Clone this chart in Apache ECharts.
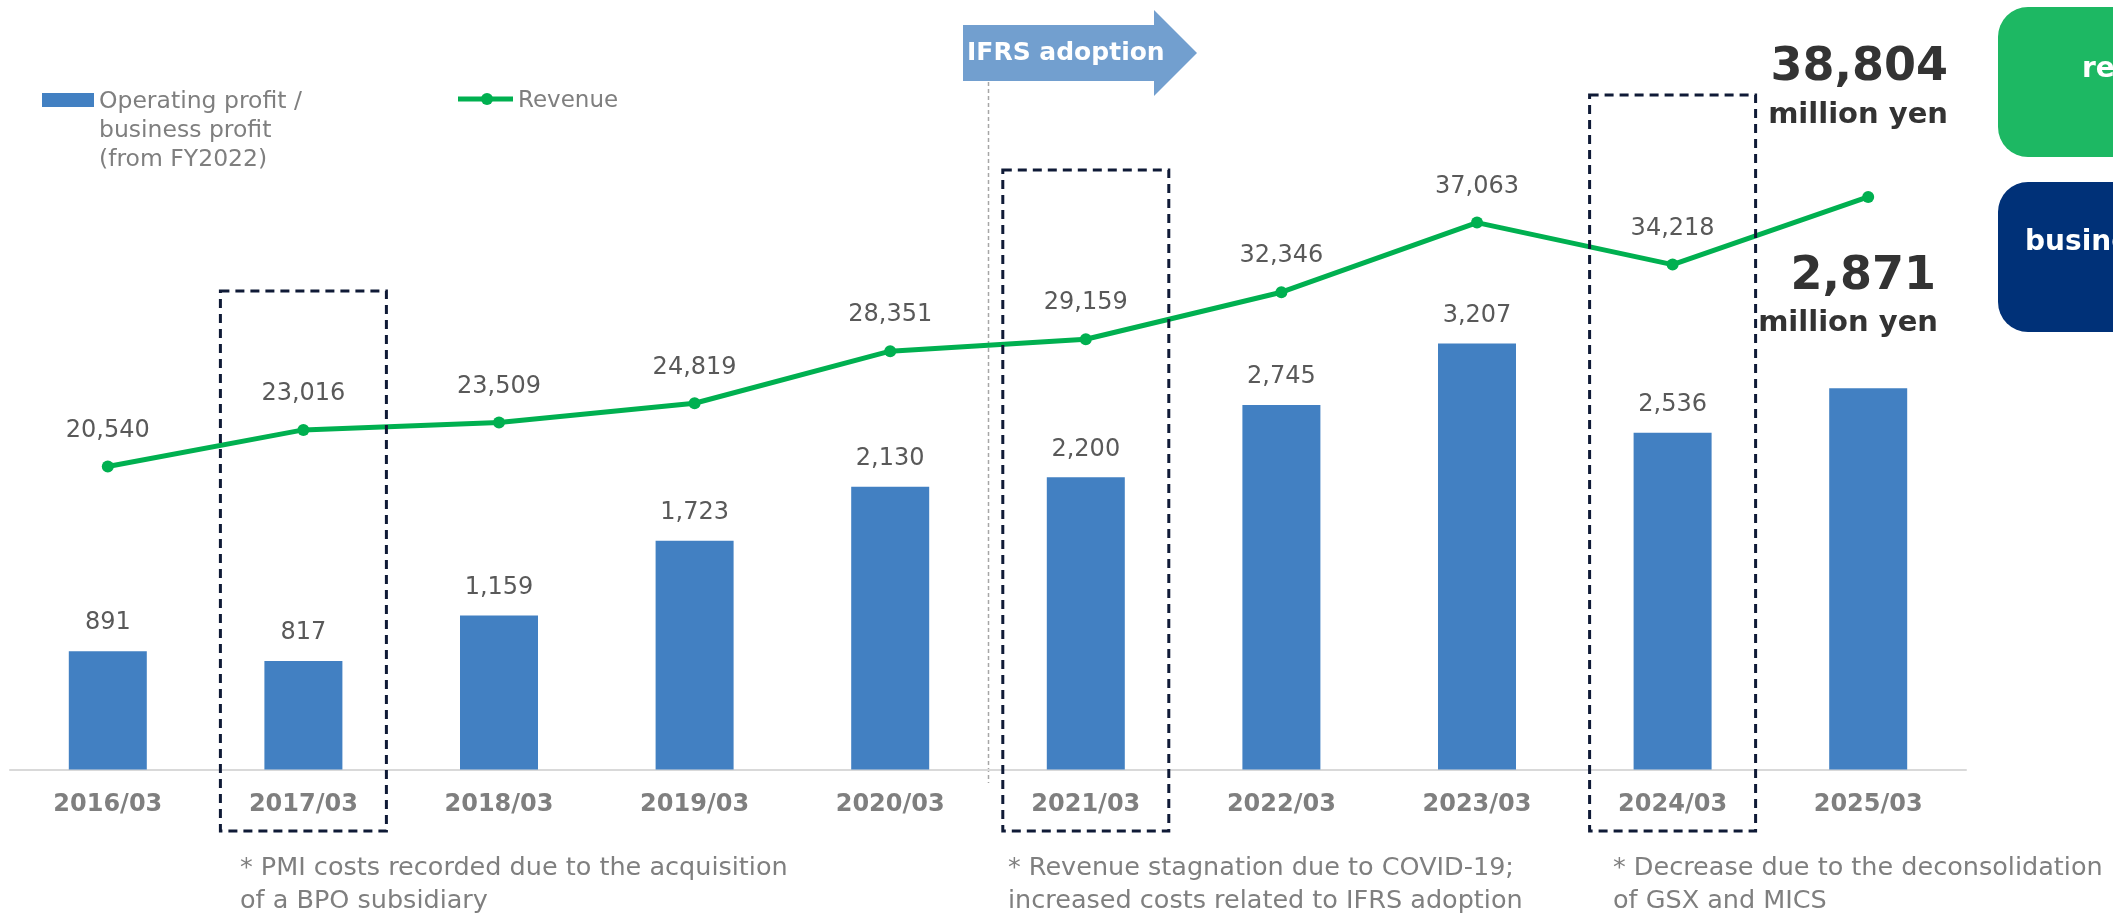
<!DOCTYPE html>
<html>
<head>
<meta charset="utf-8">
<script src="https://cdn.jsdelivr.net/npm/echarts@6/dist/echarts.min.js"></script>
<style>
  html, body { margin: 0; padding: 0; background: #ffffff; }
  #chart { width: 2113px; height: 913px; }
</style>
</head>
<body>
<div id="chart"></div>
<script>
// Fiscal years (March year-end)
const categories = ['2016/03', '2017/03', '2018/03', '2019/03', '2020/03',
                    '2021/03', '2022/03', '2023/03', '2024/03', '2025/03'];
// Operating profit / business profit, million yen
const profit = [891, 817, 1159, 1723, 2130, 2200, 2745, 3207, 2536, 2871];
// Revenue, million yen
const revenue = [20540, 23016, 23509, 24819, 28351, 29159, 32346, 37063, 34218, 38804];
// Years with a note below the axis
const notedYears = ['2017/03', '2021/03', '2024/03'];
const notes = [
  '* PMI costs recorded due to the acquisition\nof a BPO subsidiary',
  '* Revenue stagnation due to COVID-19;\nincreased costs related to IFRS adoption',
  '* Decrease due to the deconsolidation\nof GSX and MICS'
];
// First year reported under IFRS
const ifrsYear = '2021/03';

const FONT = "'DejaVu Sans', Verdana, sans-serif";
const BAR_COLOR = '#4280c2';
const LINE_COLOR = '#00b050';
const fmt = v => v.toLocaleString('en-US');
const last = categories.length - 1;

const chart = echarts.init(document.getElementById('chart'), null, { renderer: 'canvas' });

chart.setOption({
  backgroundColor: '#ffffff',
  animation: false,
  textStyle: { fontFamily: FONT },
  grid: { left: 10, right: 147, top: 105.5, bottom: 143.5 },
  xAxis: {
    type: 'category',
    data: categories,
    axisLine: { lineStyle: { color: '#d9d9d9', width: 2 } },
    axisTick: { show: false },
    axisLabel: { color: '#7f7f7f', fontWeight: 'bold', fontSize: 24, margin: 23, fontFamily: FONT }
  },
  yAxis: [
    { type: 'value', min: 0, max: 5000, show: false, splitLine: { show: false } },
    { type: 'value', min: 0, max: 45000, show: false, splitLine: { show: false } }
  ],
  series: [
    {
      name: 'Operating profit / business profit (from FY2022)',
      type: 'bar',
      barWidth: 78,
      itemStyle: { color: BAR_COLOR },
      label: {
        show: true, position: 'top', distance: 16,
        color: '#595959', fontSize: 24, fontFamily: FONT,
        formatter: p => fmt(p.value)
      },
      data: profit.map((v, i) => i === last ? { value: v, label: { show: false } } : v)
    },
    {
      name: 'Revenue',
      type: 'line',
      yAxisIndex: 1,
      symbol: 'circle',
      symbolSize: 12,
      lineStyle: { color: LINE_COLOR, width: 5 },
      itemStyle: { color: LINE_COLOR },
      label: {
        show: true, position: 'top', distance: 18,
        color: '#595959', fontSize: 24, fontFamily: FONT,
        formatter: p => fmt(p.value)
      },
      data: revenue.map((v, i) => i === last ? { value: v, label: { show: false } } : v)
    }
  ]
});

// Annotations placed from the category axis positions
const cx = c => chart.convertToPixel({ xAxisIndex: 0 }, c);
const step = cx(categories[1]) - cx(categories[0]);
const boxTops = [291, 170, 95];
const boxBottom = 831;
const boxHalf = 83;
const noteX = [240, 1008, 1613];

const graphics = [];

// Dashed frames around the noted years
notedYears.forEach((c, k) => {
  const x = cx(c);
  graphics.push({
    type: 'rect', silent: true, z: 10,
    shape: { x: x - boxHalf, y: boxTops[k], width: boxHalf * 2, height: boxBottom - boxTops[k] },
    style: { fill: null, stroke: '#0f1a36', lineWidth: 3, lineDash: [9, 6] }
  });
  graphics.push({
    type: 'text', silent: true,
    x: noteX[k], y: 852,
    style: { text: notes[k], fill: '#7f7f7f', font: '25.5px ' + FONT, lineHeight: 33, textVerticalAlign: 'top' }
  });
});

// IFRS boundary line and arrow
const ifrsX = Math.round(cx(ifrsYear) - step / 2) + 0.5;
graphics.push({
  type: 'line', silent: true,
  shape: { x1: ifrsX, y1: 82, x2: ifrsX, y2: 783 },
  style: { stroke: '#a6a6a6', lineWidth: 1.5, lineDash: [4, 3] }
});
graphics.push({
  type: 'polygon', silent: true,
  shape: { points: [[963, 25], [1154, 25], [1154, 10], [1197, 53], [1154, 96], [1154, 81], [963, 81]] },
  style: { fill: '#729fcf' }
});
graphics.push({
  type: 'text', silent: true, x: 967, y: 53,
  style: { text: 'IFRS adoption', fill: '#ffffff', font: 'bold 25px ' + FONT, textVerticalAlign: 'middle' }
});

// Legend
graphics.push({
  type: 'rect', silent: true,
  shape: { x: 42, y: 93, width: 52, height: 14 },
  style: { fill: BAR_COLOR }
});
graphics.push({
  type: 'text', silent: true, x: 99, y: 87,
  style: { text: 'Operating profit /\nbusiness profit\n(from FY2022)', fill: '#7f7f7f', font: '23.5px ' + FONT, lineHeight: 29, textVerticalAlign: 'top' }
});
graphics.push({
  type: 'line', silent: true,
  shape: { x1: 458, y1: 99, x2: 513, y2: 99 },
  style: { stroke: LINE_COLOR, lineWidth: 5 }
});
graphics.push({
  type: 'circle', silent: true,
  shape: { cx: 487, cy: 99, r: 6 },
  style: { fill: LINE_COLOR }
});
graphics.push({
  type: 'text', silent: true, x: 518, y: 101,
  style: { text: 'Revenue', fill: '#7f7f7f', font: '23px ' + FONT, textVerticalAlign: 'middle' }
});

// Latest-year figures
graphics.push({
  type: 'text', silent: true, x: 1948, y: 68,
  style: { text: fmt(revenue[last]), fill: '#333333', font: 'bold 46px ' + FONT, textAlign: 'right', textVerticalAlign: 'middle' }
});
graphics.push({
  type: 'text', silent: true, x: 1948, y: 115,
  style: { text: 'million yen', fill: '#333333', font: 'bold 29px ' + FONT, textAlign: 'right', textVerticalAlign: 'middle' }
});
graphics.push({
  type: 'text', silent: true, x: 1936, y: 277,
  style: { text: fmt(profit[last]), fill: '#333333', font: 'bold 46px ' + FONT, textAlign: 'right', textVerticalAlign: 'middle' }
});
graphics.push({
  type: 'text', silent: true, x: 1938, y: 323,
  style: { text: 'million yen', fill: '#333333', font: 'bold 29px ' + FONT, textAlign: 'right', textVerticalAlign: 'middle' }
});

// Side badges
graphics.push({
  type: 'rect', silent: true,
  shape: { x: 1998, y: 7, width: 260, height: 150, r: 30 },
  style: { fill: '#1db863' }
});
graphics.push({
  type: 'text', silent: true, x: 2082, y: 70,
  style: { text: 'revenue', fill: '#ffffff', font: 'bold 28px ' + FONT, textVerticalAlign: 'middle' }
});
graphics.push({
  type: 'rect', silent: true,
  shape: { x: 1998, y: 182, width: 260, height: 150, r: 30 },
  style: { fill: '#003178' }
});
graphics.push({
  type: 'text', silent: true, x: 2025, y: 243,
  style: { text: 'business profit', fill: '#ffffff', font: 'bold 28px ' + FONT, textVerticalAlign: 'middle' }
});

chart.setOption({ graphic: { elements: graphics } });
</script>
</body>
</html>
